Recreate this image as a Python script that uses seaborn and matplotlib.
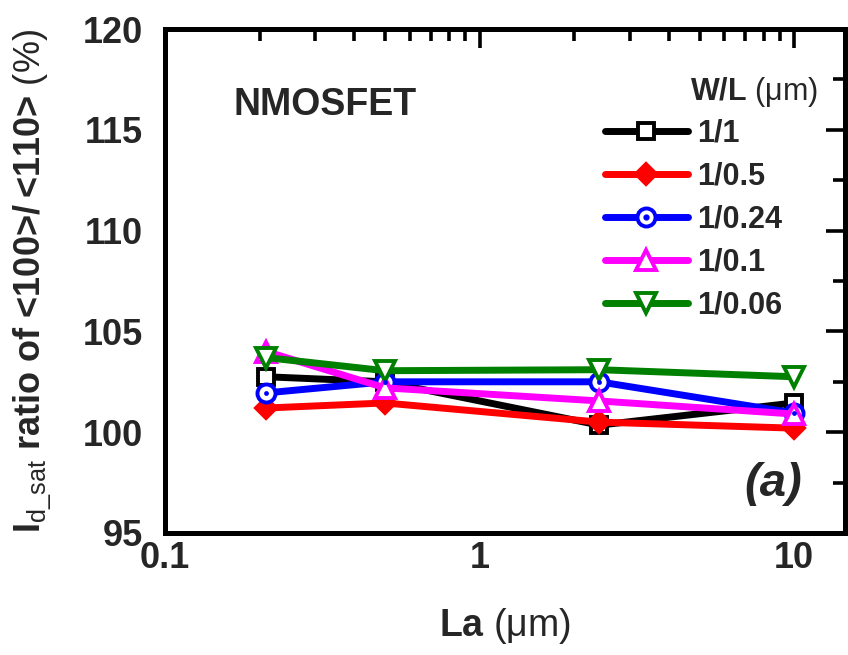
import numpy as np
import pandas as pd
import seaborn as sns
import matplotlib
matplotlib.use("Agg")
import matplotlib.pyplot as plt
from matplotlib.lines import Line2D
from matplotlib.legend_handler import HandlerTuple
from matplotlib.ticker import FixedLocator, LogLocator, NullFormatter, MultipleLocator

# ---- data ----
la_um = [0.21, 0.5, 2.4, 10]
series_names = ["1/1", "1/0.5", "1/0.24", "1/0.1", "1/0.06"]
ratio_1_1 = [102.75, 102.5, 100.35, 101.45]
ratio_1_05 = [101.2, 101.45, 100.5, 100.2]
ratio_1_024 = [101.95, 102.5, 102.5, 100.95]
ratio_1_01 = [104.0, 102.2, 101.55, 100.9]
ratio_1_006 = [103.7, 103.05, 103.1, 102.75]
y_ticks = [95, 100, 105, 110, 115, 120]
x_ticks = [0.1, 1, 10]
x_ticklabels = ["0.1", "1", "10"]

sns.set_style("white")
plt.rcParams['font.family'] = ['Liberation Sans', 'DejaVu Sans']
plt.rcParams['mathtext.fontset'] = 'custom'
plt.rcParams['mathtext.rm'] = 'Liberation Sans'
plt.rcParams['mathtext.it'] = 'Liberation Sans:italic'
plt.rcParams['mathtext.bf'] = 'Liberation Sans:bold'

fig = plt.figure(figsize=(8.48, 6.55), dpi=100)
ax = fig.add_axes([165/848, 122/655, 680/848, 504/655])

styles = [
    dict(color="black", marker="s", mfc="white", mec="black", ms=12),
    dict(color="red", marker="D", mfc="red", mec="red", ms=10.5),
    dict(color="blue", marker="o", mfc="white", mec="blue", ms=13),
    dict(color="magenta", marker="^", mfc="white", mec="magenta", ms=14),
    dict(color="green", marker="v", mfc="white", mec="green", ms=14),
]
all_vals = [ratio_1_1, ratio_1_05, ratio_1_024, ratio_1_01, ratio_1_006]
LW = 5
MEW = 2.8

handles = []
for name, vals, st in zip(series_names, all_vals, styles):
    df = pd.DataFrame({"La": la_um, "ratio": vals})
    sns.lineplot(data=df, x="La", y="ratio", ax=ax, color=st["color"], lw=LW,
                 marker=st["marker"], markersize=st["ms"], markerfacecolor=st["mfc"],
                 markeredgecolor=st["mec"], markeredgewidth=MEW, legend=False,
                 errorbar=None, zorder=3)
    h = Line2D([], [], color=st["color"], lw=LW, marker=st["marker"], markersize=st["ms"],
               markerfacecolor=st["mfc"], markeredgecolor=st["mec"], markeredgewidth=MEW)
    if name == "1/0.24":
        dot = Line2D([], [], ls="none", marker="o", markersize=3.5, color="blue")
        h = (h, dot)
    handles.append(h)

# centre dots of the 1/0.24 circles
df_dot = pd.DataFrame({"La": la_um, "ratio": ratio_1_024})
sns.scatterplot(data=df_dot, x="La", y="ratio", ax=ax, color="blue", s=12,
                linewidth=0, legend=False, zorder=4)

ax.set_xscale("log")
ax.set_xlim(0.1, 14.5)
ax.set_ylim(95, 120)
ax.xaxis.set_major_locator(FixedLocator(x_ticks))
ax.set_xticklabels(x_ticklabels)
ax.xaxis.set_minor_locator(LogLocator(base=10, subs=np.arange(2, 10)))
ax.xaxis.set_minor_formatter(NullFormatter())
ax.yaxis.set_major_locator(FixedLocator(y_ticks))
ax.yaxis.set_minor_locator(MultipleLocator(2.5))

for sp in ax.spines.values():
    sp.set_linewidth(3.6)
    sp.set_color("black")

ax.tick_params(which="both", direction="in", top=True, right=True, color="black")
ax.tick_params(which="major", length=14, width=2.6)
ax.tick_params(which="minor", length=8.5, width=2.6)
ax.tick_params(axis="y", which="major", labelsize=26, pad=16)
ax.tick_params(axis="x", which="major", labelsize=26, pad=6)
for lab in ax.get_xticklabels() + ax.get_yticklabels():
    lab.set_fontweight("bold")

ax.set_xlabel(r"La $\mathrm{(μm)}$", fontsize=27, fontweight="bold")
ax.set_ylabel("I$_{\\mathrm{d\\_sat}}$ ratio of <100>/\u2009<110> $\\mathrm{(\\%)}$",
              fontsize=26, fontweight="bold")
ax.xaxis.set_label_coords(0.5, -0.145)
ax.yaxis.set_label_coords(-0.163, 0.5)

ax.text(0.1, 0.849, "NMOSFET", transform=ax.transAxes, fontsize=27,
        fontweight="bold", ha="left", va="center")
ax.text(0.894, 0.097, "(a)", transform=ax.transAxes, fontsize=34,
        fontweight="bold", fontstyle="italic", ha="center", va="center")
ax.text((690-165)/680, (533-92)/504, r"W/L $\mathrm{(μm)}$", transform=ax.transAxes,
        fontsize=22, fontweight="bold", ha="left", va="center")

leg = ax.legend(handles, series_names, loc="upper left",
                bbox_to_anchor=((605-165)/680, (533-119)/504),
                frameon=False, handlelength=2.7, handletextpad=0.3,
                labelspacing=0.42, borderpad=0, borderaxespad=0,
                handler_map={tuple: HandlerTuple(ndivide=1)},
                prop={"weight": "bold", "size": 22})

fig.savefig("out.png", dpi=100)
